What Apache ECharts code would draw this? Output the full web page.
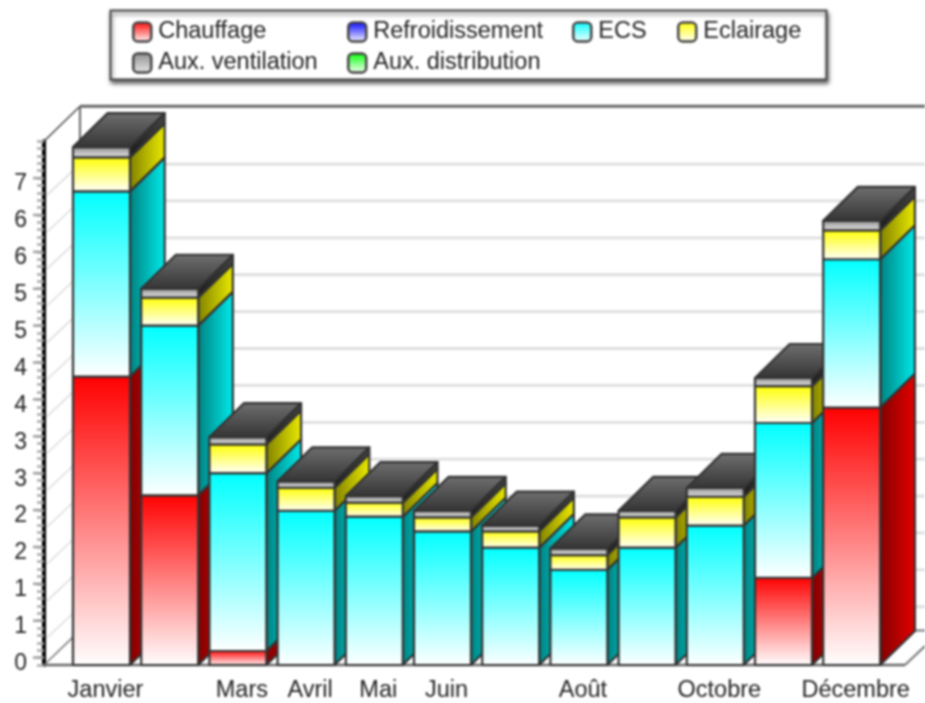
<!DOCTYPE html>
<html>
<head>
<meta charset="utf-8">
<title>Consommations mensuelles</title>
<style>
html, body { margin: 0; padding: 0; background: #fff; overflow: hidden; }
#chart { width: 925px; height: 703px; filter: blur(.8px); }
</style>
<script src="https://cdn.jsdelivr.net/npm/echarts@6/dist/echarts.min.js"></script>
</head>
<body>
<div id="chart"></div>
<script>
var months = ['Janvier', 'Février', 'Mars', 'Avril', 'Mai', 'Juin', 'Juillet', 'Août', 'Septembre', 'Octobre', 'Novembre', 'Décembre'];
var shownMonths = ['Janvier', 'Mars', 'Avril', 'Mai', 'Juin', 'Août', 'Octobre', 'Décembre'];

// hauteurs, depuis le bas de l'axe
var chauffage = [3.91, 2.30, 0.19, 0, 0, 0, 0, 0, 0, 0, 1.18, 3.49];
var refroidissement = [0, 0, 0, 0, 0, 0, 0, 0, 0, 0, 0, 0];
var ecs = [2.51, 2.30, 2.41, 2.09, 2.01, 1.81, 1.59, 1.29, 1.59, 1.89, 2.10, 2.01];
var eclairage = [0.46, 0.38, 0.39, 0.31, 0.19, 0.19, 0.22, 0.20, 0.41, 0.39, 0.50, 0.39];
var auxVentilation = [0.14, 0.12, 0.10, 0.09, 0.09, 0.09, 0.08, 0.09, 0.09, 0.12, 0.11, 0.13];
var auxDistribution = [0, 0, 0, 0, 0, 0, 0, 0, 0, 0, 0, 0];

var tickValues = [0, 0.5, 1, 1.5, 2, 2.5, 3, 3.5, 4, 4.5, 5, 5.5, 6, 6.5];
var tickLabels = ['0', '1', '1', '2', '2', '3', '3', '4', '4', '5', '5', '6', '6', '7'];

var yMin = -0.1;
var yMax = 7;
var barWidth = 57;
var depthX = 34.7;
var depthY = 34;
var font = '"Liberation Sans", Arial, sans-serif';

var Gradient = echarts.graphic.LinearGradient;

function vGrad(top, bottom) {
	return new Gradient(0, 0, 0, 1, [{ offset: 0, color: top }, { offset: 1, color: bottom }]);
}
function hGrad(left, right) {
	return new Gradient(0, 0, 1, 0, [{ offset: 0, color: left }, { offset: 1, color: right }]);
}

var stack = [
	{ name: 'Chauffage', values: chauffage, front: '#ff0000', end: '#ffffff', side: ['#800000', '#e80000'] },
	{ name: 'Refroidissement', values: refroidissement, front: '#0000ff', end: '#ffffff', side: ['#000080', '#0000e8'] },
	{ name: 'ECS', values: ecs, front: '#00ffff', end: '#ffffff', side: ['#008080', '#00ecec'] },
	{ name: 'Eclairage', values: eclairage, front: '#ffff00', end: '#ffffff', side: ['#808000', '#ecec00'] },
	{ name: 'Aux. ventilation', values: auxVentilation, front: '#8c8c8c', end: '#e8e8e8', side: ['#1c1c1c', '#444444'] },
	{ name: 'Aux. distribution', values: auxDistribution, front: '#00ff00', end: '#ffffff', side: ['#008000', '#00e800'] }
];

function cumulBelow(s, i) {
	var sum = 0;
	for (var k = 0; k < s; k++) {
		sum += stack[k].values[i];
	}
	return sum;
}

function renderSegment(s) {
	return function (params, api) {
		var i = api.value(0);
		var v = api.value(1);
		if (!v) {
			return null;
		}
		var below = cumulBelow(s, i);
		var center = api.coord([i, yMin])[0];
		var yb = api.coord([i, yMin + below])[1];
		var yt = api.coord([i, yMin + below + v])[1];
		var xl = center - barWidth / 2;
		var xr = center + barWidth / 2;
		var z = 10 + i * 20 + s * 3;
		var item = stack[s];
		var border = { stroke: '#333333', lineWidth: 2.2, lineJoin: 'round' };
		var children = [
			{
				type: 'polygon',
				z2: z,
				shape: { points: [[xr, yb], [xr + depthX, yb - depthY], [xr + depthX, yt - depthY], [xr, yt]] },
				style: Object.assign({ fill: hGrad(item.side[0], item.side[1]) }, border)
			},
			{
				type: 'polygon',
				z2: z + 1,
				shape: { points: [[xl, yb], [xr, yb], [xr, yt], [xl, yt]] },
				style: Object.assign({ fill: vGrad(item.front, item.end) }, border)
			}
		];
		if (item.name === 'Aux. ventilation') {
			children.push({
				type: 'polygon',
				z2: z + 2,
				shape: { points: [[xl, yt], [xr, yt], [xr + depthX, yt - depthY], [xl + depthX, yt - depthY]] },
				style: Object.assign({ fill: vGrad('#707070', '#333333') }, border)
			});
		}
		return { type: 'group', children: children };
	};
}

// murs, grille du fond et grands traits de l'axe
function renderFrame(params, api) {
	var baseY = api.coord([0, yMin])[1];
	var topY = api.coord([0, yMax])[1];
	var axisX = 44;
	var backX = axisX + 36;
	var floorY = baseY - 34.6;
	var children = [];
	function line(x1, y1, x2, y2, color, width) {
		children.push({
			type: 'line',
			z2: 1,
			shape: { x1: x1, y1: y1, x2: x2, y2: y2 },
			style: { stroke: color, lineWidth: width }
		});
	}
	tickValues.forEach(function (t) {
		var y = api.coord([0, t])[1];
		line(axisX - 11, y, axisX - 2, y, '#a0a0a0', 2.5);
		if (t === 0) {
			return;
		}
		line(axisX + 3, y + 17, backX, y - 14, '#dddddd', 1.5);
		line(backX, y - 14, 925, y - 14, '#dedede', 2.8);
	});
	line(axisX, topY, backX, topY - 35, '#444444', 1.5);
	line(backX, topY - 35, 925, topY - 35, '#666666', 3);
	line(backX, topY - 35, backX, floorY, '#666666', 2);
	line(axisX, baseY, backX, floorY, '#777777', 1.5);
	line(backX, floorY, 925, floorY, '#777777', 2);
	line(905, baseY, 925, baseY - 19, '#777777', 2);
	line(axisX, baseY, 905, baseY, '#666666', 2.5);
	return { type: 'group', children: children };
}

var series = [
	{
		type: 'custom',
		name: 'cadre',
		silent: true,
		data: [[0, 0]],
		renderItem: renderFrame
	}
];
stack.forEach(function (item, s) {
	series.push({
		type: 'custom',
		name: item.name,
		itemStyle: { color: vGrad(item.front, item.end) },
		data: item.values.map(function (v, i) { return [i, v]; }),
		renderItem: renderSegment(s)
	});
});

function legendColumn(left, names) {
	return {
		left: left,
		top: 15,
		orient: 'vertical',
		icon: 'roundRect',
		itemWidth: 18,
		itemHeight: 19,
		itemGap: 7,
		selectedMode: false,
		itemStyle: { borderColor: '#444444', borderWidth: 2.5 },
		textStyle: { color: '#222222', fontFamily: font, fontSize: 23.5, lineHeight: 22, padding: [0, 0, 0, 2] },
		data: names
	};
}

var chart = echarts.init(document.getElementById('chart'));
chart.setOption({
	animation: false,
	backgroundColor: '#ffffff',
	legend: [
		legendColumn(127, ['Chauffage', 'Aux. ventilation']),
		legendColumn(342, ['Refroidissement', 'Aux. distribution']),
		legendColumn(567, ['ECS']),
		legendColumn(672, ['Eclairage'])
	],
	graphic: [
		{
			type: 'rect',
			z: -1,
			shape: { x: 110.5, y: 10.5, width: 716, height: 69 },
			style: {
				fill: '#ffffff',
				stroke: '#444444',
				lineWidth: 2,
				shadowColor: 'rgba(0,0,0,.55)',
				shadowBlur: 4,
				shadowOffsetX: 1,
				shadowOffsetY: 3
			}
		}
	],
	grid: { left: 67.4, top: 141.2, width: 818.4, height: 525.4 },
	xAxis: [
		{
			type: 'category',
			data: months,
			offset: 4,
			axisLine: { show: false },
			axisTick: { alignWithLabel: true, length: 8, lineStyle: { color: '#a8a8a8', width: 2.5 } },
			axisLabel: {
				interval: function (i, name) { return shownMonths.indexOf(name) >= 0; },
				color: '#222222',
				fontFamily: font,
				fontSize: 23.5,
				margin: 10,
				padding: [0, 0, 0, 8]
			}
		},
		{
			type: 'category',
			position: 'bottom',
			data: months,
			offset: 4,
			axisLine: { show: false },
			axisTick: { length: 5, lineStyle: { color: '#a8a8a8', width: 2.5 } },
			axisLabel: { show: false }
		}
	],
	yAxis: [
		{
			type: 'value',
			min: yMin,
			max: yMax,
			offset: 23.4,
			splitLine: { show: false },
			axisLine: { show: true, onZero: false, lineStyle: { color: '#000000', width: 4 } },
			axisTick: { show: false },
			axisLabel: {
				customValues: tickValues,
				formatter: function (v) { return tickLabels[Math.round(v / 0.5)]; },
				color: '#222222',
				fontFamily: font,
				fontSize: 23,
				margin: 17,
				verticalAlign: 'top',
				lineHeight: 12
			}
		},
		{
			type: 'value',
			min: yMin,
			max: yMax,
			interval: 0.1,
			position: 'left',
			offset: 23.4,
			splitLine: { show: false },
			axisLine: { show: false },
			axisTick: { show: true, length: 7, lineStyle: { color: '#aaaaaa', width: 2.5 } },
			axisLabel: { show: false }
		}
	],
	series: series
});
</script>
</body>
</html>
